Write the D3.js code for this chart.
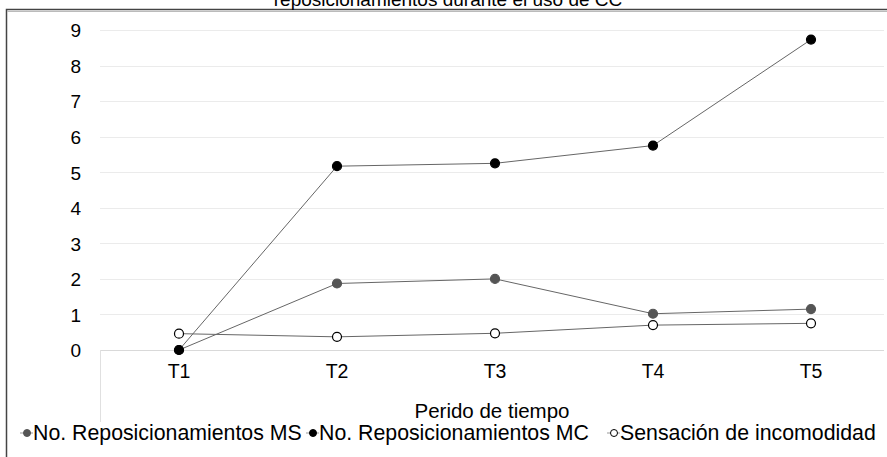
<!DOCTYPE html>
<html>
<head>
<meta charset="utf-8" />
<title>Reposicionamientos</title>
<style>
html, body {
    margin: 0;
    padding: 0;
    background: #fff;
}
svg text {
    font-family: "Liberation Sans", Arial, sans-serif;
    fill: #000;
}
</style>
</head>
<body>
<div id="chart"></div>
<script src="https://cdnjs.cloudflare.com/ajax/libs/d3/7.8.5/d3.min.js"></script>
<script>
// datos
var periodos = ["T1", "T2", "T3", "T4", "T5"]
var repMS = [0, 1.87, 2.0, 1.02, 1.15]
var repMC = [0, 5.17, 5.25, 5.75, 8.73]
var incomodidad = [0.46, 0.37, 0.47, 0.70, 0.75]
var yTicks = [0, 1, 2, 3, 4, 5, 6, 7, 8, 9]

var series = [
    {name: "No. Reposicionamientos MS", values: repMS, fill: "#555", stroke: "#555"},
    {name: "No. Reposicionamientos MC", values: repMC, fill: "#000", stroke: "#000"},
    {name: "Sensación de incomodidad", values: incomodidad, fill: "#fff", stroke: "#000"}
]

var W = 887, H = 457
var svg = d3.select("#chart").append("svg")
    .attr("width", W)
    .attr("height", H)

// marco
svg.append("rect")
    .attr("x", 6.5).attr("y", 9.5)
    .attr("width", W + 10).attr("height", H + 10)
    .attr("fill", "none")
    .attr("stroke", "#444")
    .attr("stroke-width", 1.5)
svg.append("line")
    .attr("x1", 7).attr("x2", W).attr("y1", 11.5).attr("y2", 11.5)
    .attr("stroke", "#bbb")

// titulo (cortado arriba, como en la imagen)
svg.append("text")
    .attr("x", 448).attr("y", 6)
    .attr("text-anchor", "middle")
    .style("font-size", "19px")
    .text("reposicionamientos durante el uso de CC")

var x = d3.scaleBand().domain(periodos).range([100, 890])
var y = d3.scaleLinear().domain([0, 9]).range([350, 30])

// rejilla
svg.append("g").selectAll("line")
    .data(yTicks)
    .enter()
    .append("line")
    .attr("x1", 100).attr("x2", 884)
    .attr("y1", function(d) { return Math.round(y(d)) + 0.5 })
    .attr("y2", function(d) { return Math.round(y(d)) + 0.5 })
    .attr("stroke", function(d) { return d === 0 ? "#d9d9d9" : "#ebebeb" })
    .attr("stroke-width", 1)

svg.append("line")
    .attr("x1", 100.5).attr("x2", 100.5)
    .attr("y1", 350).attr("y2", 422)
    .attr("stroke", "#e0e0e0")

var yAxis = svg.append("g")
    .attr("transform", "translate(81,0)")
    .call(d3.axisLeft(y).tickValues(yTicks).tickSize(0).tickPadding(0))
yAxis.select(".domain").remove()
yAxis.selectAll("text")
    .style("font-size", "19px")
    .attr("dy", "0.36em")

var xAxis = svg.append("g")
    .attr("transform", "translate(0,350)")
    .call(d3.axisBottom(x).tickSize(0).tickPadding(14))
xAxis.select(".domain").remove()
xAxis.selectAll("text")
    .style("font-size", "19.5px")
    .attr("dy", "0.71em")

svg.append("text")
    .attr("x", 492).attr("y", 418)
    .attr("text-anchor", "middle")
    .style("font-size", "20.5px")
    .text("Perido de tiempo")

var line = d3.line()
    .x(function(d, i) { return x(periodos[i]) + x.bandwidth() / 2 })
    .y(function(d) { return y(d) })

var g = svg.append("g")
series.forEach(function(s) {
    g.append("path")
        .datum(s.values)
        .attr("d", line)
        .attr("fill", "none")
        .attr("stroke", "#666")
        .attr("stroke-width", 1)
})
series.forEach(function(s) {
    g.append("g").selectAll("circle")
        .data(s.values)
        .enter()
        .append("circle")
        .attr("cx", function(d, i) { return x(periodos[i]) + x.bandwidth() / 2 })
        .attr("cy", function(d) { return y(d) })
        .attr("r", 4.5)
        .attr("fill", s.fill)
        .attr("stroke", s.stroke)
        .attr("stroke-width", 1.2)
})

// leyenda
var legX = [27, 313, 614]
var leg = svg.append("g")
series.forEach(function(s, i) {
    var lg = leg.append("g").attr("transform", "translate(" + legX[i] + ",433)")
    lg.append("line")
        .attr("x1", -7).attr("x2", 6)
        .attr("stroke", "#999").attr("stroke-width", 1)
    lg.append("circle")
        .attr("r", 3.5)
        .attr("fill", s.fill).attr("stroke", s.stroke).attr("stroke-width", 1)
    lg.append("text")
        .attr("x", 6).attr("dy", "0.35em")
        .style("font-size", "21.3px")
        .text(s.name)
})
</script>
</body>
</html>
